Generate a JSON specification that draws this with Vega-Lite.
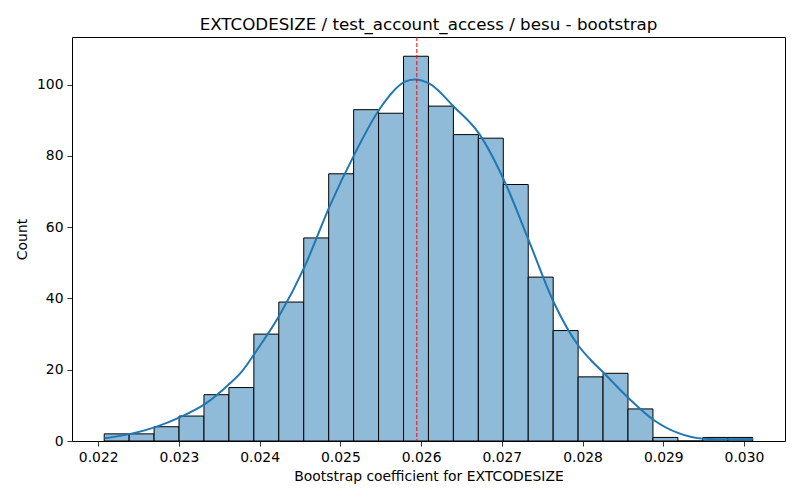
{
  "$schema": "https://vega.github.io/schema/vega-lite/v6.json",
  "width": 713,
  "height": 404,
  "autosize": {"type": "none"},
  "padding": {"left": 72, "top": 37, "right": 15, "bottom": 59},
  "background": "white",
  "title": {"text": "EXTCODESIZE / test_account_access / besu - bootstrap", "offset": 3},
  "datasets": {
    "bars": [
      {"bin_start": 0.022074, "bin_end": 0.022383, "count": 2},
      {"bin_start": 0.022383, "bin_end": 0.022692, "count": 2},
      {"bin_start": 0.022692, "bin_end": 0.023001, "count": 4},
      {"bin_start": 0.023001, "bin_end": 0.023310, "count": 7},
      {"bin_start": 0.023310, "bin_end": 0.023619, "count": 13},
      {"bin_start": 0.023619, "bin_end": 0.023928, "count": 15},
      {"bin_start": 0.023928, "bin_end": 0.024237, "count": 30},
      {"bin_start": 0.024237, "bin_end": 0.024546, "count": 39},
      {"bin_start": 0.024546, "bin_end": 0.024855, "count": 57},
      {"bin_start": 0.024855, "bin_end": 0.025164, "count": 75},
      {"bin_start": 0.025164, "bin_end": 0.025473, "count": 93},
      {"bin_start": 0.025473, "bin_end": 0.025782, "count": 92},
      {"bin_start": 0.025782, "bin_end": 0.026091, "count": 108},
      {"bin_start": 0.026091, "bin_end": 0.026400, "count": 94},
      {"bin_start": 0.026400, "bin_end": 0.026709, "count": 86},
      {"bin_start": 0.026709, "bin_end": 0.027018, "count": 85},
      {"bin_start": 0.027018, "bin_end": 0.027327, "count": 72},
      {"bin_start": 0.027327, "bin_end": 0.027636, "count": 46},
      {"bin_start": 0.027636, "bin_end": 0.027945, "count": 31},
      {"bin_start": 0.027945, "bin_end": 0.028254, "count": 18},
      {"bin_start": 0.028254, "bin_end": 0.028563, "count": 19},
      {"bin_start": 0.028563, "bin_end": 0.028872, "count": 9},
      {"bin_start": 0.028872, "bin_end": 0.029181, "count": 1},
      {"bin_start": 0.029181, "bin_end": 0.029490, "count": 0},
      {"bin_start": 0.029490, "bin_end": 0.029799, "count": 1},
      {"bin_start": 0.029799, "bin_end": 0.030108, "count": 1}
    ],
    "kde": [
      {"x": 0.022078, "y": 0.75},
      {"x": 0.022399, "y": 2.0},
      {"x": 0.022707, "y": 3.9},
      {"x": 0.023016, "y": 6.7},
      {"x": 0.023325, "y": 10.4},
      {"x": 0.023633, "y": 16.2},
      {"x": 0.023778, "y": 19.5},
      {"x": 0.023942, "y": 24.7},
      {"x": 0.024251, "y": 35.5},
      {"x": 0.024560, "y": 49.1},
      {"x": 0.024869, "y": 66.0},
      {"x": 0.025177, "y": 80.6},
      {"x": 0.025486, "y": 93.2},
      {"x": 0.025794, "y": 100.8},
      {"x": 0.025918, "y": 101.5},
      {"x": 0.026103, "y": 100.3},
      {"x": 0.026412, "y": 93.7},
      {"x": 0.026720, "y": 86.2},
      {"x": 0.027049, "y": 72.1},
      {"x": 0.027337, "y": 56.1},
      {"x": 0.027646, "y": 38.8},
      {"x": 0.027954, "y": 26.6},
      {"x": 0.028099, "y": 22.8},
      {"x": 0.028263, "y": 19.1},
      {"x": 0.028572, "y": 12.0},
      {"x": 0.028881, "y": 5.9},
      {"x": 0.029189, "y": 2.2},
      {"x": 0.029498, "y": 0.65},
      {"x": 0.029806, "y": 0.5},
      {"x": 0.030108, "y": 0.55}
    ],
    "estimate": [{"value": 0.025947}]
  },
  "layer": [
    {
      "data": {"name": "bars"},
      "mark": {"type": "rect", "fill": "#8fbbd9", "stroke": "black", "strokeWidth": 1},
      "encoding": {
        "x": {"field": "bin_start", "type": "quantitative", "scale": {"domain": [0.021675, 0.030508], "nice": false, "zero": false},
              "axis": {"values": [0.022, 0.023, 0.024, 0.025, 0.026, 0.027, 0.028, 0.029, 0.030], "format": ".3f", "title": "Bootstrap coefficient for EXTCODESIZE", "titlePadding": 6}},
        "x2": {"field": "bin_end"},
        "y": {"field": "count", "type": "quantitative", "scale": {"domain": [0, 113.4], "nice": false},
              "axis": {"values": [0, 20, 40, 60, 80, 100], "title": "Count", "titlePadding": 7}},
        "y2": {"datum": 0}
      }
    },
    {
      "data": {"name": "kde"},
      "mark": {"type": "line", "color": "#1f77b4", "strokeWidth": 2, "interpolate": "monotone"},
      "encoding": {
        "x": {"field": "x", "type": "quantitative"},
        "y": {"field": "y", "type": "quantitative"}
      }
    },
    {
      "data": {"name": "estimate"},
      "mark": {"type": "rule", "color": "red", "strokeWidth": 1, "strokeDash": [4, 2]},
      "encoding": {
        "x": {"field": "value", "type": "quantitative"}
      }
    }
  ],
  "config": {
    "font": "DejaVu Sans",
    "view": {"stroke": "black", "strokeWidth": 1},
    "axis": {
      "grid": false,
      "domain": false,
      "ticks": true,
      "tickColor": "black",
      "tickSize": 5,
      "tickWidth": 0.8,
      "labelFontSize": 13.9,
      "labelColor": "black",
      "labelPadding": 4,
      "titleFontSize": 13.9,
      "titleFontWeight": "normal",
      "titleColor": "black"
    },
    "title": {"fontSize": 16.7, "fontWeight": "normal", "color": "black"}
  }
}
